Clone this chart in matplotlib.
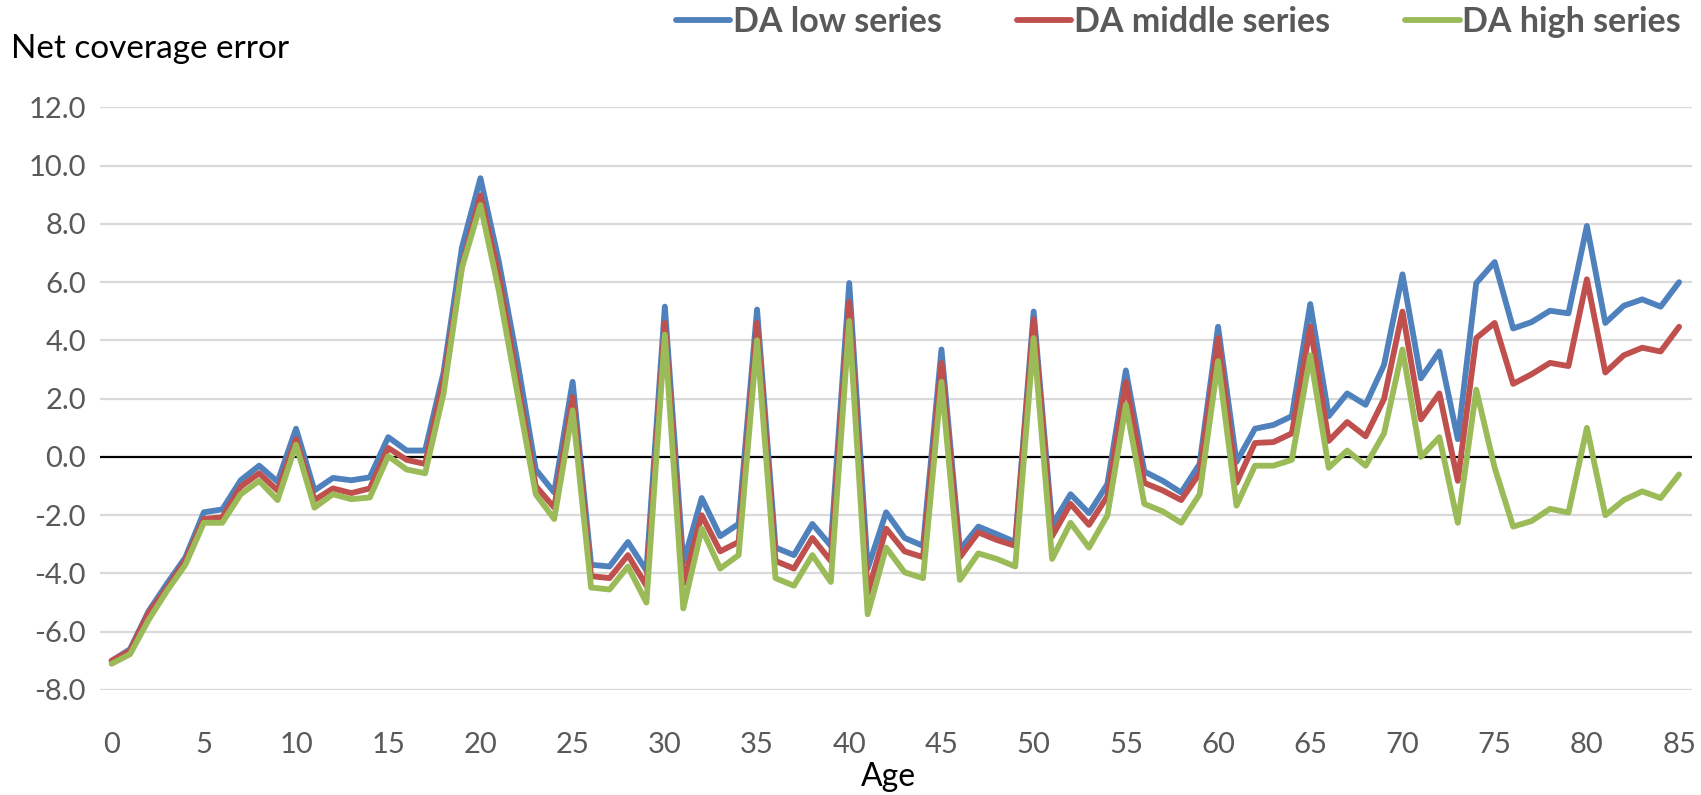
import matplotlib
matplotlib.use("Agg")
import matplotlib.pyplot as plt

plt.rcParams['font.family'] = ['Lato', 'DejaVu Sans']

ages = list(range(0, 86))

da_low = [-7.0, -6.6, -5.3, -4.35, -3.45, -1.9, -1.8, -0.8, -0.3, -0.85,
          0.97, -1.15, -0.72, -0.8, -0.7, 0.68, 0.22, 0.22, 2.9, 7.2,
          9.57, 6.7, 3.3, -0.43, -1.22, 2.58, -3.7, -3.76, -2.92, -3.9,
          5.16, -3.63, -1.41, -2.72, -2.3, 5.06, -3.11, -3.37, -2.3, -3.05,
          5.97, -3.83, -1.9, -2.78, -3.05, 3.69, -3.18, -2.39, -2.65, -2.92,
          4.99, -2.33, -1.28, -1.93, -0.93, 2.97, -0.5, -0.82, -1.22, -0.24,
          4.47, -0.17, 0.97, 1.1, 1.4, 5.25, 1.4, 2.18, 1.79, 3.16,
          6.27, 2.7, 3.62, 0.61, 5.97, 6.69, 4.41, 4.63, 5.02, 4.93,
          7.93, 4.6, 5.19, 5.41, 5.16, 6.0]

da_middle = [-7.0, -6.65, -5.35, -4.5, -3.55, -2.13, -2.07, -1.02, -0.56, -1.15,
             0.61, -1.48, -1.08, -1.24, -1.08, 0.31, -0.1, -0.24, 2.64, 6.56,
             8.98, 6.2, 2.6, -1.0, -1.74, 2.05, -4.09, -4.16, -3.37, -4.42,
             4.6, -4.35, -2.0, -3.24, -2.92, 4.6, -3.57, -3.83, -2.78, -3.57,
             5.32, -4.68, -2.46, -3.24, -3.44, 3.23, -3.44, -2.59, -2.85, -3.05,
             4.73, -2.72, -1.61, -2.33, -1.35, 2.58, -0.89, -1.15, -1.48, -0.56,
             4.08, -0.89, 0.48, 0.51, 0.81, 4.47, 0.55, 1.2, 0.71, 1.99,
             4.99, 1.29, 2.18, -0.82, 4.08, 4.6, 2.51, 2.84, 3.23, 3.12,
             6.1, 2.9, 3.49, 3.75, 3.62, 4.47]

da_high = [-7.1, -6.77, -5.6, -4.6, -3.7, -2.26, -2.26, -1.28, -0.82, -1.48,
           0.42, -1.74, -1.28, -1.45, -1.39, 0.03, -0.43, -0.56, 2.18, 6.5,
           8.65, 5.7, 2.2, -1.28, -2.13, 1.6, -4.48, -4.55, -3.76, -5.0,
           4.2, -5.2, -2.46, -3.83, -3.37, 4.01, -4.16, -4.42, -3.37, -4.29,
           4.67, -5.4, -3.11, -3.96, -4.16, 2.58, -4.22, -3.31, -3.5, -3.76,
           4.08, -3.5, -2.26, -3.11, -2.0, 1.79, -1.61, -1.87, -2.26, -1.28,
           3.29, -1.67, -0.3, -0.3, -0.1, 3.49, -0.37, 0.22, -0.3, 0.81,
           3.69, 0.0, 0.68, -2.26, 2.31, -0.37, -2.39, -2.2, -1.78, -1.91,
           1.0, -2.0, -1.48, -1.18, -1.41, -0.6]

series_names = ['DA low series', 'DA middle series', 'DA high series']
colors = ['#4F81BD', '#C0504D', '#9BBB59']
y_ticks = [-8, -6, -4, -2, 0, 2, 4, 6, 8, 10, 12]
x_ticks = list(range(0, 86, 5))

fig = plt.figure(figsize=(17.01, 7.95), dpi=100)
ax = fig.add_axes([100/1701, 1 - 690/795, (1692 - 100)/1701, (690 - 107.4)/795])

for yt in y_ticks:
    if yt == 0:
        continue
    ax.axhline(yt, color='#D9D9D9', lw=1.6, zorder=1)
ax.axhline(0, color='black', lw=1.6, zorder=2)

lines = []
for data, c in zip([da_low, da_middle, da_high], colors):
    ln, = ax.plot(ages, data, color=c, lw=4.2, solid_joinstyle='round',
                  solid_capstyle='round', zorder=3)
    lines.append(ln)

ax.set_xlim(-0.63, 85.7)
ax.set_ylim(-8, 12)
ax.set_yticks(y_ticks)
ax.set_yticklabels([f'{v:.1f}' for v in y_ticks])
ax.set_xticks(x_ticks)
ax.set_xticklabels([str(v) for v in x_ticks])
ax.tick_params(axis='both', length=0, labelsize=21, labelcolor='#595959')
ax.tick_params(axis='y', pad=10)
ax.tick_params(axis='x', pad=30)
for s in ax.spines.values():
    s.set_visible(False)

fig.text(11/1701, 1 - 49/795, 'Net coverage error', fontsize=24,
         va='center', ha='left', color='black')
fig.text(888/1701, 1 - 786/795, 'Age', fontsize=23,
         va='baseline', ha='center', color='black')

fig.legend(lines, series_names, loc='center right',
           bbox_to_anchor=(1681/1701, 1 - 22/795), ncol=3, frameon=False,
           borderaxespad=0, borderpad=0,
           handlelength=1.6, handletextpad=0.08, columnspacing=2.2,
           prop={'size': 24.5, 'weight': 'bold'}, labelcolor='#595959')

fig.savefig('out.png', dpi=100)
